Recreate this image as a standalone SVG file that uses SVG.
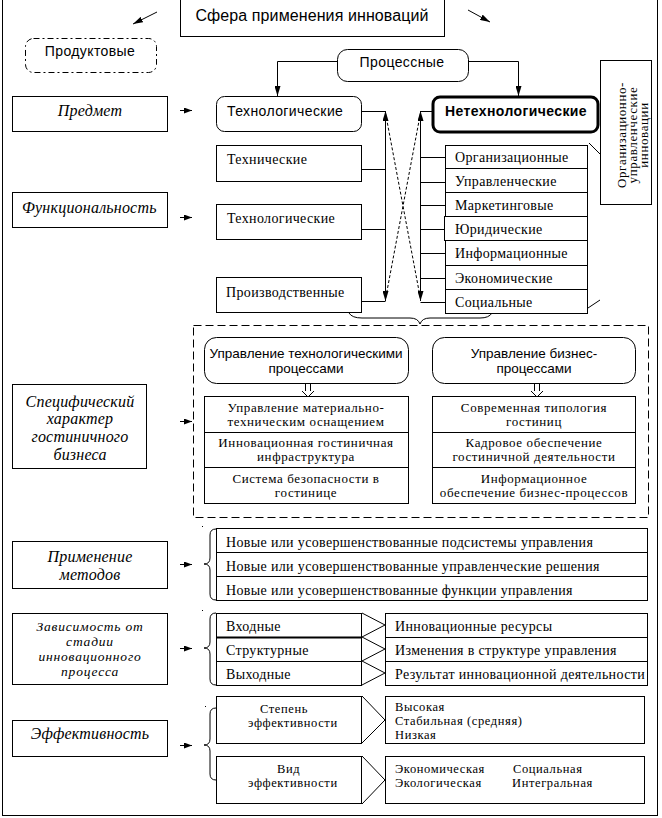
<svg xmlns="http://www.w3.org/2000/svg" width="662" height="818" viewBox="0 0 662 818">
<defs>
<marker id="a" viewBox="0 0 10 6" refX="10" refY="3" markerWidth="10" markerHeight="6" markerUnits="userSpaceOnUse" orient="auto-start-reverse"><path d="M0,0 L10,3 L0,6z" fill="#000"/></marker>
<marker id="s" viewBox="0 0 8 6" refX="8" refY="3" markerWidth="8" markerHeight="6" markerUnits="userSpaceOnUse" orient="auto"><path d="M0,0 L8,3 L0,6z" fill="#000"/></marker>
</defs>
<style>
.b{fill:#fff;stroke:#000;stroke-width:1}
.n{fill:none;stroke:#000;stroke-width:1}
.sans{font-family:"Liberation Sans",Arial,sans-serif;font-size:14px;letter-spacing:0.4px;fill:#000}
.ser{font-family:"Liberation Serif","Times New Roman",serif;font-size:14px;letter-spacing:0.35px;fill:#000}
.it{font-family:"Liberation Serif","Times New Roman",serif;font-style:italic;font-size:16px;letter-spacing:0.2px;fill:#000}
.sm{font-size:12.5px;letter-spacing:0.6px}
.t2{font-size:13px;letter-spacing:0.6px}
.it2{font-size:13.5px;letter-spacing:0.8px}
.m{text-anchor:middle}
</style>
<rect x="0" y="0" width="662" height="818" fill="#fff"/>
<rect class="n" x="2.5" y="-5" width="655" height="820.5"/>

<g id="title">
<rect class="b" x="180.5" y="-5" width="264" height="41.5"/>
<text class="sans m" x="312" y="21" style="font-size:16px;letter-spacing:0.1px">Сфера применения  инноваций</text>
</g>

<g id="connectors">
<line class="n" x1="157" y1="12" x2="133" y2="24" marker-end="url(#a)"/>
<line class="n" x1="468" y1="10" x2="490" y2="22" marker-end="url(#a)"/>
<path class="n" d="M337,61.5 H277.5 V96" marker-end="url(#a)"/>
<path class="n" d="M468,61.5 H518.5 V96" marker-end="url(#a)"/>
<line class="n" x1="180" y1="110.5" x2="192" y2="110.5" marker-end="url(#s)"/>
<line class="n" x1="180" y1="217.5" x2="192" y2="217.5" marker-end="url(#s)"/>
<line class="n" x1="180" y1="421.5" x2="192" y2="421.5" marker-end="url(#s)"/>
<line class="n" x1="180" y1="564.5" x2="192" y2="564.5" marker-end="url(#s)"/>
<line class="n" x1="180" y1="648.5" x2="192" y2="648.5" marker-end="url(#s)"/>
<line class="n" x1="180" y1="745.5" x2="192" y2="745.5" marker-end="url(#s)"/>
<line class="n" x1="385.5" y1="111" x2="385.5" y2="301" marker-start="url(#a)" marker-end="url(#a)"/>
<path class="n" d="M362,111.5 H385.5 M362,169.5 H385.5 M362,229.5 H385.5 M362,301.5 H385.5"/>
<line class="n" x1="420.5" y1="111" x2="420.5" y2="301" marker-start="url(#a)" marker-end="url(#a)"/>
<path class="n" d="M420.5,111.5 H432 M420.5,157.5 H445 M420.5,182.5 H445 M420.5,205.5 H445 M420.5,229.5 H445 M420.5,253.5 H445 M420.5,278.5 H445 M420.5,302.5 H445"/>
<path class="n" d="M385.5,113 L420.5,299 M420.5,113 L385.5,299" style="stroke-dasharray:3,2"/>
<path class="n" d="M589,143 L600,154 M588,308 L600,300"/>
<path class="n" d="M349,313 Q352,318 362,318 L410,318 Q418,318 420,324 Q422,318 430,318 L480,318 Q489,318 492,313"/>
<path class="n" d="M305.5,384 V391 M310.5,384 V391 M302,391 L308,397 L314,391 M534.5,384 V391 M539.5,384 V391 M531,391 L537,397 L543,391"/>
<path class="n" d="M216,529 Q210,529 210,535 L210,558 Q210,564 204,564 Q210,564 210,570 L210,594 Q210,600 216,600"/>
<path class="n" d="M216,613 Q210,613 210,619 L210,642 Q210,648 204,648 Q210,648 210,654 L210,679 Q210,685 216,685"/>
<path class="n" d="M216,708 Q210,708 210,714 L210,739 Q210,745 204,745 Q210,745 210,751 L210,774 Q210,780 216,780"/>
<path class="n" d="M202,526.5 h1 M202,610.5 h1 M205,706.5 h1"/>
<path class="n" d="M362,613 L385,625 L362,637 M362,637 L385,649 L362,661 M362,661 L385,673 L362,685"/>
<path class="n" d="M362,696 L385,720 L362,743 M362,756 L385,780 L362,804"/>
</g>

<g id="produktovye">
<rect class="b" x="25.5" y="38.5" width="131" height="34" rx="8" style="stroke-dasharray:6,3,2,3"/>
<text class="sans m" x="90" y="56">Продуктовые</text>
</g>
<g id="processnye">
<rect class="b" x="337.5" y="49.5" width="131" height="32" rx="10"/>
<text class="sans m" x="402" y="67">Процессные</text>
</g>
<g id="predmet">
<rect class="b" x="12.5" y="96.5" width="155" height="35"/>
<text class="it m" x="90" y="116">Предмет</text>
</g>
<g id="tehnolog-proc">
<rect class="b" x="216.5" y="96.5" width="145" height="35" rx="8"/>
<text class="sans" x="227" y="116">Технологические</text>
</g>
<g id="netehnolog">
<rect class="b" x="433" y="97" width="165" height="35" rx="7" style="stroke-width:3"/>
<text class="sans m" x="516" y="116" style="font-weight:bold">Нетехнологические</text>
</g>
<g id="org-upr">
<rect class="b" x="600.5" y="60.5" width="51" height="144"/>
<text class="ser m" transform="translate(626,135) rotate(-90)" style="font-size:13px;letter-spacing:0.6px">Организационно-</text>
<text class="ser m" transform="translate(637,135) rotate(-90)" style="font-size:13px;letter-spacing:0.6px">управленческие</text>
<text class="ser m" transform="translate(648,135) rotate(-90)" style="font-size:13px;letter-spacing:0.6px">инновации</text>
</g>
<g id="tehnicheskie">
<rect class="b" x="216.5" y="145.5" width="145" height="36"/>
<text class="ser" x="227" y="164">Технические</text>
</g>
<g id="funkc">
<rect class="b" x="12.5" y="192.5" width="155" height="35"/>
<text class="it" x="22" y="213">Функциональность</text>
</g>
<g id="tehnolog2">
<rect class="b" x="216.5" y="204.5" width="145" height="35"/>
<text class="ser" x="227" y="223">Технологические</text>
</g>
<g id="proizv">
<rect class="b" x="216.5" y="277.5" width="145" height="35"/>
<text class="ser" x="226" y="297">Производственные</text>
</g>
<g id="list-netehn">
<rect class="b" x="445.5" y="145.5" width="142" height="23"/>
<rect class="b" x="445.5" y="168.5" width="142" height="24"/>
<rect class="b" x="445.5" y="192.5" width="142" height="24"/>
<rect class="b" x="444.5" y="216.5" width="143" height="24"/>
<rect class="b" x="445.5" y="240.5" width="142" height="25"/>
<rect class="b" x="445.5" y="265.5" width="142" height="24"/>
<rect class="b" x="445.5" y="289.5" width="142" height="24"/>
<text class="ser" x="455" y="162">Организационные</text>
<text class="ser" x="455" y="186">Управленческие</text>
<text class="ser" x="455" y="210">Маркетинговые</text>
<text class="ser" x="455" y="234">Юридические</text>
<text class="ser" x="455" y="258">Информационные</text>
<text class="ser" x="455" y="283">Экономические</text>
<text class="ser" x="455" y="307">Социальные</text>
</g>

<g id="hotel-group">
<rect class="n" x="193.5" y="325.5" width="455" height="192" style="stroke-dasharray:8,4"/>
</g>
<g id="upr-tehn">
<rect class="b" x="204.5" y="337.5" width="204" height="46" rx="12"/>
<text class="sans m" x="306" y="358" style="font-size:13.5px;letter-spacing:0">Управление технологическими</text>
<text class="sans m" x="306" y="373" style="font-size:13.5px;letter-spacing:0">процессами</text>
</g>
<g id="upr-biz">
<rect class="b" x="432.5" y="337.5" width="203" height="46" rx="12"/>
<text class="sans m" x="534" y="358" style="font-size:13.5px;letter-spacing:0">Управление бизнес-</text>
<text class="sans m" x="534" y="373" style="font-size:13.5px;letter-spacing:0">процессами</text>
</g>
<g id="tehn-list">
<rect class="b" x="204.5" y="396.5" width="204" height="36"/>
<rect class="b" x="204.5" y="432.5" width="204" height="35"/>
<rect class="b" x="204.5" y="467.5" width="204" height="36"/>
<text class="ser t2 m" x="306" y="412">Управление материально-</text>
<text class="ser t2 m" x="306" y="426">техническим оснащением</text>
<text class="ser t2 m" x="306" y="447">Инновационная гостиничная</text>
<text class="ser t2 m" x="306" y="461">инфраструктура</text>
<text class="ser t2 m" x="306" y="483">Система безопасности в</text>
<text class="ser t2 m" x="306" y="497">гостинице</text>
</g>
<g id="biz-list">
<rect class="b" x="432.5" y="396.5" width="203" height="36"/>
<rect class="b" x="432.5" y="432.5" width="203" height="35"/>
<rect class="b" x="432.5" y="467.5" width="203" height="36"/>
<text class="ser t2 m" x="534" y="412">Современная типология</text>
<text class="ser t2 m" x="534" y="426">гостиниц</text>
<text class="ser t2 m" x="534" y="447">Кадровое обеспечение</text>
<text class="ser t2 m" x="534" y="461">гостиничной деятельности</text>
<text class="ser t2 m" x="534" y="483">Информационное</text>
<text class="ser t2 m" x="534" y="497">обеспечение бизнес-процессов</text>
</g>
<g id="specific">
<rect class="b" x="12.5" y="384.5" width="134" height="84"/>
<text class="it m" x="80" y="407">Специфический</text>
<text class="it m" x="80" y="424">характер</text>
<text class="it m" x="80" y="442">гостиничного</text>
<text class="it m" x="80" y="460">бизнеса</text>
</g>

<g id="metody">
<rect class="b" x="12.5" y="541.5" width="155" height="47"/>
<text class="it m" x="90" y="562">Применение</text>
<text class="it m" x="90" y="580">методов</text>
</g>
<g id="metody-list">
<rect class="b" x="216.5" y="528.5" width="431" height="24"/>
<rect class="b" x="216.5" y="552.5" width="431" height="24"/>
<rect class="b" x="216.5" y="576.5" width="431" height="24"/>
<text class="ser" x="226" y="547">Новые или усовершенствованные подсистемы управления</text>
<text class="ser" x="226" y="571">Новые или усовершенствованные управленческие решения</text>
<text class="ser" x="226" y="595">Новые или усовершенствованные функции управления</text>
</g>

<g id="stadii">
<rect class="b" x="12.5" y="613.5" width="155" height="71"/>
<text class="it it2 m" x="90" y="631">Зависимость от</text>
<text class="it it2 m" x="90" y="646">стадии</text>
<text class="it it2 m" x="90" y="661">инновационного</text>
<text class="it it2 m" x="90" y="676">процесса</text>
</g>
<g id="stadii-list">
<rect class="b" x="216.5" y="613.5" width="145" height="24"/>
<rect class="b" x="216.5" y="637.5" width="145" height="24"/>
<rect class="b" x="216.5" y="661.5" width="145" height="24"/>
<line class="n" x1="216" y1="637.5" x2="362" y2="637.5" style="stroke-width:2"/>
<text class="ser" x="226" y="631">Входные</text>
<text class="ser" x="226" y="655">Структурные</text>
<text class="ser" x="226" y="679">Выходные</text>
</g>
<g id="stadii-res">
<rect class="b" x="385.5" y="613.5" width="262" height="24"/>
<rect class="b" x="385.5" y="637.5" width="262" height="24"/>
<rect class="b" x="385.5" y="661.5" width="262" height="24"/>
<text class="ser" x="395" y="631">Инновационные ресурсы</text>
<text class="ser" x="395" y="655">Изменения в структуре управления</text>
<text class="ser" x="395" y="679">Результат инновационной деятельности</text>
</g>

<g id="effekt">
<rect class="b" x="12.5" y="720.5" width="155" height="36"/>
<text class="it m" x="90" y="739">Эффективность</text>
</g>
<g id="stepen">
<rect class="b" x="216.5" y="696.5" width="145" height="47"/>
<text class="ser sm" x="260" y="713">Степень</text>
<text class="ser sm" x="248" y="727">эффективности</text>
</g>
<g id="vid">
<rect class="b" x="216.5" y="756.5" width="145" height="47"/>
<text class="ser sm" x="277" y="773">Вид</text>
<text class="ser sm" x="248" y="787">эффективности</text>
</g>
<g id="stepen-res">
<rect class="b" x="385.5" y="696.5" width="259" height="47"/>
<text class="ser sm" x="395" y="711">Высокая</text>
<text class="ser sm" x="395" y="725">Стабильная (средняя)</text>
<text class="ser sm" x="395" y="739">Низкая</text>
</g>
<g id="vid-res">
<rect class="b" x="385.5" y="756.5" width="259" height="47"/>
<text class="ser sm" x="395" y="773">Экономическая</text>
<text class="ser sm" x="513" y="773">Социальная</text>
<text class="ser sm" x="395" y="787">Экологическая</text>
<text class="ser sm" x="512" y="787">Интегральная</text>
</g>
</svg>
